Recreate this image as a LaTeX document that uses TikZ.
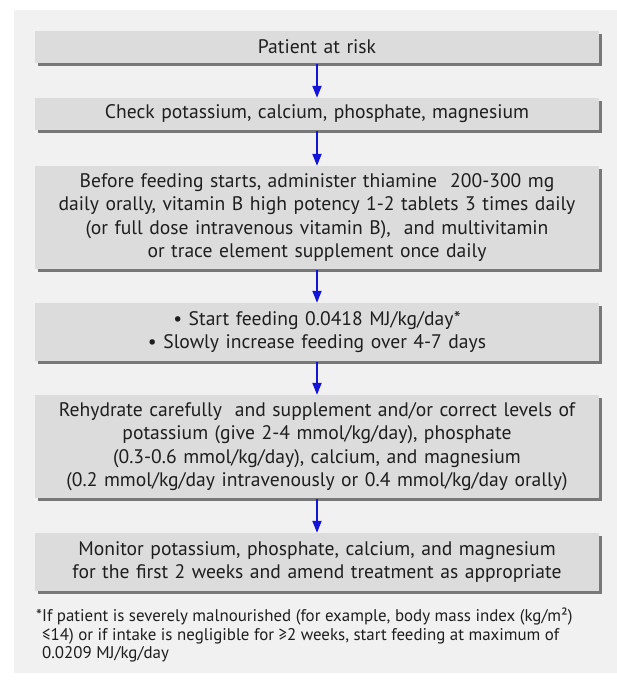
\documentclass[tikz,border=0pt]{standalone}
\usepackage{fontspec}
\setmainfont{PT Sans}
\usetikzlibrary{shadows,arrows.meta}
\definecolor{bggray}{HTML}{F1F1F1}
\definecolor{boxgray}{HTML}{DCDCDC}
\definecolor{shadowgray}{HTML}{787878}
\definecolor{arrowblue}{HTML}{1414D8}
\definecolor{txt}{HTML}{1E1E1E}
\tikzset{
  flowbox/.style={fill=boxgray, draw=none, minimum width=564pt, text width=560pt,
    align=center, inner sep=0pt, text=txt,
    font=\fontsize{19.6}{23.5}\selectfont,
    general shadow={fill=shadowgray, shadow xshift=3pt, shadow yshift=-3pt}},
  flowarrow/.style={draw=arrowblue, line width=2pt, -{Triangle[width=9pt,length=12pt]}},
  footnote/.style={anchor=north west, align=left, inner sep=0pt, text=txt,
    font=\fontsize{16.9}{18.2}\selectfont}
}
\begin{document}
\begin{tikzpicture}[x=1pt,y=-1pt]
\useasboundingbox (0,0) rectangle (617,682);
\fill[white] (0,0) rectangle (617,682);
\fill[bggray] (14,10) rectangle (617,673);
\node[flowbox, minimum height=32pt] (b1) at (317,47) {Patient at risk};
\node[flowbox, minimum height=32pt] (b2) at (317,114) {Check potassium, calcium, phosphate, magnesium};
\node[flowbox, minimum height=103pt] (b3) at (317,217.5) {Before feeding starts, administer thiamine\ \ 200-300 mg\\ daily orally, vitamin B high potency 1-2 tablets 3 times daily\\ (or full dose intravenous vitamin B),\ \ and multivitamin\\ or trace element supplement once daily};
\node[flowbox, minimum height=58pt] (b4) at (317,332) {• Start feeding 0.0418 MJ/kg/day*\\ • Slowly increase feeding over 4-7 days};
\node[flowbox, minimum height=103pt] (b5) at (317,446.5) {Rehydrate carefully\ \ and supplement and/or correct levels of\\ potassium (give 2-4 mmol/kg/day), phosphate\\ (0.3-0.6 mmol/kg/day), calcium, and magnesium\\ (0.2 mmol/kg/day intravenously or 0.4 mmol/kg/day orally)};
\node[flowbox, minimum height=58pt] (b6) at (317,562) {Monitor potassium, phosphate, calcium, and magnesium\\ for the first 2 weeks and amend treatment as appropriate};
\draw[flowarrow] ([yshift=-1pt]b1.south) -- (b2.north);
\draw[flowarrow] ([yshift=-1pt]b2.south) -- (b3.north);
\draw[flowarrow] ([yshift=-1pt]b3.south) -- (b4.north);
\draw[flowarrow] ([yshift=-1pt]b4.south) -- (b5.north);
\draw[flowarrow] ([yshift=-1pt]b5.south) -- (b6.north);
\node[footnote] (fn) at (36,608) {*If patient is severely malnourished (for example, body mass index (kg/m²)\\ \phantom{*}≤14) or if intake is negligible for ≥2 weeks, start feeding at maximum of\\ \phantom{*}0.0209 MJ/kg/day};
\end{tikzpicture}
\end{document}
